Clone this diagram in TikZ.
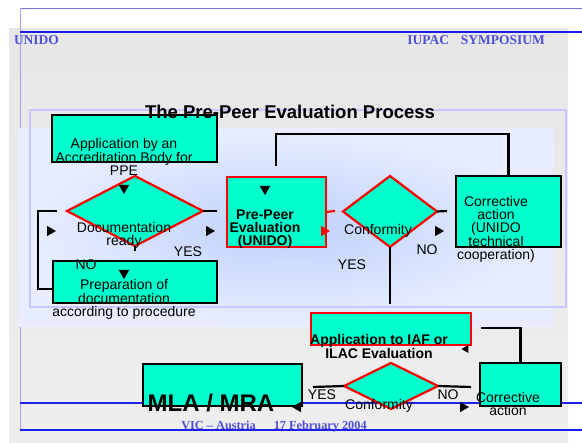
\documentclass[tikz,border=0pt]{standalone}
\usepackage{fontspec}
\setmainfont{Liberation Sans}
\newfontfamily\slidefont{Liberation Serif}
\usepackage{tikz}
\usetikzlibrary{shapes}
\usetikzlibrary{arrows,positioning}

\definecolor{aqua}{RGB}{0,255,204}
\definecolor{slideblue}{RGB}{80,80,215}
\definecolor{ruleblue}{RGB}{30,30,235}
\definecolor{paleblue}{RGB}{232,238,255}
\definecolor{midblue}{RGB}{190,208,250}
\definecolor{lavender}{RGB}{200,200,255}

\begin{document}
\begin{tikzpicture}[x=1pt,y=-1pt,
  every node/.style={align=center,inner sep=0pt,outer sep=0pt,
    font=\fontsize{14}{13}\selectfont},
  process/.style={draw=black,line width=1.8pt,fill=aqua},
  check/.style={process,draw=red,line width=2.2pt},
  decision/.style={check,shape=diamond},
  caption/.style={font=\fontsize{14}{13}\selectfont},
  strong/.style={font=\bfseries\fontsize{14}{13}\selectfont},
  header/.style={text=slideblue,font=\slidefont\bfseries\fontsize{13.5}{14}\selectfont},
  link/.style={black,line width=2.2pt},
  redlink/.style={link,red},
  tip/.style={regular polygon,regular polygon sides=3,fill=black,minimum size=12pt},
  tipdown/.style={tip,shape border rotate=180},
  tipright/.style={tip,shape border rotate=-90},
  tipleft/.style={tip,shape border rotate=90}]

    % slide background
    \useasboundingbox (0,0) rectangle (582,443);
    \shade[top color=gray!19,bottom color=gray!14] (9,29) rectangle (568,443);
    \draw[slideblue!80,line width=0.8pt] (20,8) -- (582,8);
    \draw[lavender!80!blue,line width=0.6pt] (20,8) -- (20,430);
    \draw[ruleblue,line width=1.6pt] (20,32) -- (582,32);
    \draw[ruleblue,line width=1.4pt] (20,403) -- (582,403);
    \draw[ruleblue,line width=1.2pt] (20,430) -- (582,430);
    \shade[inner color=midblue,outer color=paleblue] (18,129) rectangle (553,327);
    \draw[lavender,line width=1.4pt] (30,110) rectangle (566,307);

    \node[header,anchor=west] (unido) at (14,40) {UNIDO};
    \node[header,anchor=east] (iupac) at (545,40) {IUPAC\hspace{12pt}SYMPOSIUM};
    \node[header,font=\slidefont\bfseries\fontsize{12.3}{13}\selectfont] (venue)
      at (274,427) {VIC \textendash{} Austria\hspace{18pt}17 February 2004};

    % connectors
    \coordinate (docL) at (57,211);
    \coordinate (docR) at (217,211);
    \coordinate (docS) at (135,251);
    \coordinate (ppeTop) at (276,166);
    \coordinate (ppeR) at (335,211);
    \coordinate (confR) at (447,211);
    \coordinate (confDown) at (390,304);
    \coordinate (iafR) at (481,328);
    \coordinate (conf2L) at (313,387);
    \coordinate (conf2R) at (471,387);

    % boxes
    \node[process,minimum width=165,minimum height=47] (app) at (134.5,138.5) {};
    \node[decision,minimum width=136,minimum height=70] (doc) at (135,211) {};
    \node[process,minimum width=164,minimum height=42] (prep) at (135,282) {};
    \node[check,minimum width=99,minimum height=70] (ppe) at (276.5,212) {};
    \node[decision,minimum width=94,minimum height=71] (conf) at (390,211.5) {};
    \node[process,minimum width=105,minimum height=71] (corr) at (508.5,211.5) {};
    \node[check,minimum width=160,minimum height=32] (iaf) at (391,329) {};
    \node[decision,minimum width=94,minimum height=46] (conf2) at (391,386) {};
    \node[process,minimum width=159,minimum height=42] (mla) at (222.5,385) {};
    \node[process,minimum width=81,minimum height=43] (corr2) at (520.5,384.5) {};

    \draw[link] (docL) -- (38,211) |- ([yshift=-7pt]prep.west);
    \draw[link] (doc.east) -- (docR);
    \draw[link,line width=1.4pt] (doc.south) -- (docS);
    \draw[link] (ppeTop) -- (276,134) -| (corr.north);
    \draw[redlink] (ppe.east) -- (ppeR);
    \draw[link] (conf.east) -- (confR);
    \draw[link] (conf.south) -- (confDown);
    \draw[link] (iafR) -| (corr2.north);
    \draw[link] (conf2.west) -- (conf2L);
    \draw[link] (conf2.east) -- (conf2R);

    % texts
    \node[font=\bfseries\fontsize{18.5}{20}\selectfont] (title) at (290,112)
      {The Pre-Peer Evaluation Process};
    \node[caption] (app-t) at (124,157) {Application by an\\Accreditation Body for\\PPE};
    \node[caption] (doc-t) at (124,235.5) {Documentation\\ready};
    \node[caption] (prep-t) at (124,299.5) {Preparation of\\documentation\\according to procedure};
    \node[strong] (ppe-t) at (265,229) {Pre-Peer\\Evaluation\\(UNIDO)};
    \node[caption] (conf-t) at (378,231) {Conformity};
    \node[caption] (corr-t) at (496,229.5) {Corrective\\action\\(UNIDO\\technical\\cooperation)};
    \node[strong] (iaf-t) at (379,346.5) {Application to IAF or\\ILAC Evaluation};
    \node[caption] (conf2-t) at (379,406) {Conformity};
    \node[caption] (corr2-t) at (508,403.5) {Corrective\\action};
    \node[font=\bfseries\fontsize{24}{26}\selectfont] (mla-t) at (211,403) {MLA / MRA};

    \node[caption] (yes1) at (188,252) {YES};
    \node[caption] (no1) at (86,265) {NO};
    \node[caption] (yes2) at (352,265) {YES};
    \node[caption] (no2) at (427,250) {NO};
    \node[caption] (yes3) at (322,395) {YES};
    \node[caption] (no3) at (448,395) {NO};

    % arrow heads
    \node[tipdown] (tipApp) at (124,188) {};
    \node[tipdown] (tipPrep) at (124,273) {};
    \node[tipdown] (tipPpe) at (265,189) {};
    \node[tipright] (tipLoop) at (50,231) {};
    \node[tipright] (tipDoc) at (209,231) {};
    \node[tipright,fill=red] (tipCheck) at (324,231) {};
    \node[tipright] (tipCorr) at (438,231) {};
    \node[tipleft,minimum size=9pt] (tipIaf) at (466,349) {};
    \node[tipleft] (tipMla) at (298,407) {};
    \node[tipright] (tipCorr2) at (463,407) {};
\end{tikzpicture}
\end{document}
